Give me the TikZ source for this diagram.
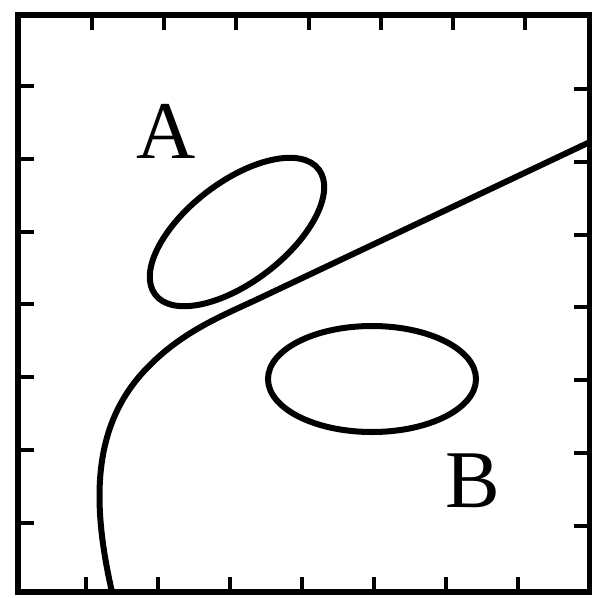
\documentclass[tikz,border=0pt]{standalone}
\usepackage{fontspec}
\setmainfont{Liberation Serif}
\usetikzlibrary{positioning}

\begin{document}
\begin{tikzpicture}[
    x=1pt, y=-1pt,
    frame/.style={line width=5.5pt, line cap=rect},
    tick/.style={line width=4pt},
    contour/.style={line width=6pt},
    boundary/.style={line width=6pt, line cap=round},
    lbl/.style={font=\fontsize{82}{82}\selectfont, inner sep=0pt}
]
    \useasboundingbox (0,0) rectangle (592,598);

    % frame and ticks
    \draw[frame] (18,15) rectangle (590,592);
    \foreach \k in {0,...,6} {
        \draw[tick] ({92+72.2*\k},15) -- ++(0,15);
        \draw[tick] ({86+72*\k},592) -- ++(0,-15);
        \draw[tick] (18,{86+72.8*\k}) -- ++(16,0);
        \draw[tick] (590,{89+72.8*\k}) -- ++(-16,0);
    }

    % clusters
    \draw[contour, rotate around={37.5:(237,232)}] (237,232) ellipse [x radius=103, y radius=50];
    \draw[contour] (372,379) ellipse [x radius=104, y radius=53];

    % separating curve
    \coordinate (cbot) at (112,592);
    \coordinate (cbend) at (150,365);
    \coordinate (cknee) at (260,298);
    \coordinate (ctop) at (592,141);
    \draw[boundary] (cbot) .. controls (91,500) and (92,422) .. (cbend)
        .. controls (185,330) and (224,315) .. (cknee) -- (ctop);

    \node[lbl] (labA) at (166,131) {A};
    \node[lbl] (labB) at (473,481) {B};
\end{tikzpicture}
\end{document}
